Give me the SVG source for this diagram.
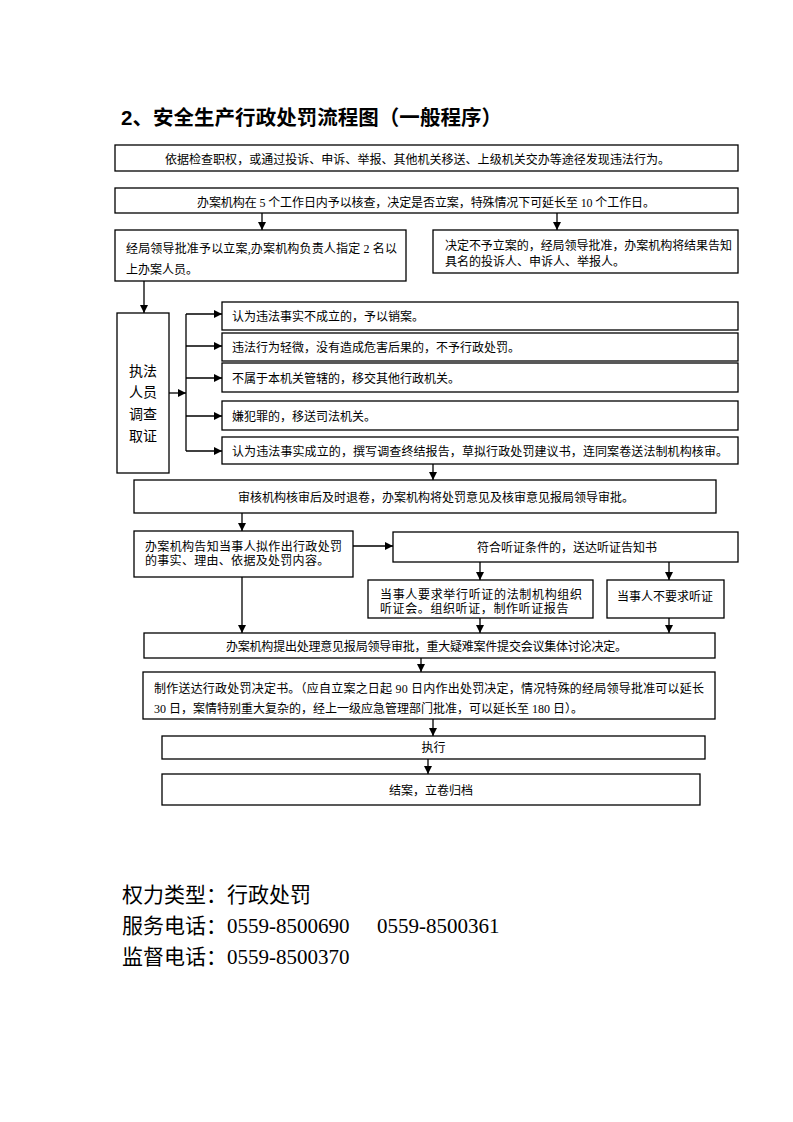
<svg xmlns="http://www.w3.org/2000/svg" width="793" height="1122" viewBox="0 0 793 1122">
<style>
.b{fill:#fff;stroke:#000;stroke-width:1.3}
.t{font-family:"Liberation Serif","Noto Sans CJK SC",serif;font-size:12px;fill:#000}
.c{text-anchor:middle}
.v{font-family:"Liberation Serif","Noto Sans CJK SC",serif;font-size:14px;fill:#000;text-anchor:middle}
.ttl{font-family:"Liberation Sans","Noto Sans CJK SC",sans-serif;font-size:20.5px;font-weight:bold;fill:#000}
.foot{font-family:"Liberation Serif","Noto Sans CJK SC",serif;font-size:21px;fill:#000}
.ln{fill:none;stroke:#000;stroke-width:1.3}
.ar{fill:none;stroke:#000;stroke-width:1.3;marker-end:url(#ah)}
</style>
<defs>
<marker id="ah" viewBox="0 0 10 10" refX="10" refY="5" markerWidth="8" markerHeight="8" markerUnits="userSpaceOnUse" orient="auto"><path d="M0,0 L10,5 L0,10 z" fill="#000"/></marker>
</defs>
<rect width="793" height="1122" fill="#fff"/>
<text class="ttl" x="121" y="125" textLength="381" lengthAdjust="spacing">2、安全生产行政处罚流程图（一般程序）</text>

<g id="connectors">
<line class="ar" x1="262" y1="213" x2="262" y2="230"/>
<line class="ar" x1="557" y1="213" x2="557" y2="230"/>
<line class="ar" x1="144" y1="281" x2="144" y2="313"/>
<line class="ar" x1="169" y1="393" x2="186" y2="393"/>
<line class="ln" x1="186" y1="314" x2="186" y2="451"/>
<line class="ar" x1="186" y1="314" x2="222" y2="314"/>
<line class="ar" x1="186" y1="346" x2="222" y2="346"/>
<line class="ar" x1="186" y1="378" x2="222" y2="378"/>
<line class="ar" x1="186" y1="416" x2="222" y2="416"/>
<line class="ar" x1="186" y1="451" x2="222" y2="451"/>
<line class="ar" x1="433" y1="464" x2="433" y2="480"/>
<line class="ar" x1="242" y1="513" x2="242" y2="531"/>
<line class="ar" x1="353" y1="546" x2="393" y2="546"/>
<line class="ar" x1="480" y1="562" x2="480" y2="580"/>
<line class="ar" x1="669" y1="562" x2="669" y2="580"/>
<line class="ar" x1="480" y1="618" x2="480" y2="633"/>
<line class="ar" x1="669" y1="618" x2="669" y2="633"/>
<line class="ar" x1="242" y1="577" x2="242" y2="633"/>
<line class="ar" x1="421" y1="658" x2="421" y2="672"/>
<line class="ar" x1="433" y1="719" x2="433" y2="736"/>
<line class="ar" x1="428" y1="759" x2="428" y2="774"/>
</g>

<g id="n1"><rect class="b" x="115" y="145" width="623" height="26"/>
<text class="t" x="165" y="163.5" textLength="505" lengthAdjust="spacing">依据检查职权，或通过投诉、申诉、举报、其他机关移送、上级机关交办等途径发现违法行为。</text></g>

<g id="n2"><rect class="b" x="115" y="188" width="623" height="25"/>
<text class="t" x="197" y="206.5" textLength="458" lengthAdjust="spacing">办案机构在 5 个工作日内予以核查，决定是否立案，特殊情况下可延长至 10 个工作日。</text></g>

<g id="n3"><rect class="b" x="115" y="230" width="291" height="51"/>
<text class="t" x="126" y="252.5" textLength="271" lengthAdjust="spacing">经局领导批准予以立案,办案机构负责人指定 2 名以</text>
<text class="t" x="126" y="273.5">上办案人员。</text></g>

<g id="n4"><rect class="b" x="433" y="230" width="305" height="43"/>
<text class="t" x="445" y="249.5" textLength="287" lengthAdjust="spacing">决定不予立案的，经局领导批准，办案机构将结果告知</text>
<text class="t" x="445" y="266">具名的投诉人、申诉人、举报人。</text></g>

<g id="n5"><rect class="b" x="117" y="313" width="52" height="160"/>
<text class="v" x="143" y="375.5">执法</text>
<text class="v" x="143" y="397.2">人员</text>
<text class="v" x="143" y="418.9">调查</text>
<text class="v" x="143" y="440.6">取证</text></g>

<g id="n6"><rect class="b" x="222" y="302" width="516" height="28"/>
<text class="t" x="232" y="321">认为违法事实不成立的，予以销案。</text></g>
<g id="n7"><rect class="b" x="222" y="333" width="516" height="28"/>
<text class="t" x="232" y="352">违法行为轻微，没有造成危害后果的，不予行政处罚。</text></g>
<g id="n8"><rect class="b" x="222" y="363" width="516" height="29"/>
<text class="t" x="232" y="382.5">不属于本机关管辖的，移交其他行政机关。</text></g>
<g id="n9"><rect class="b" x="222" y="401" width="516" height="29"/>
<text class="t" x="232" y="420.5">嫌犯罪的，移送司法机关。</text></g>
<g id="n10"><rect class="b" x="222" y="437" width="516" height="27"/>
<text class="t" x="232" y="455.5" textLength="496" lengthAdjust="spacing">认为违法事实成立的，撰写调查终结报告，草拟行政处罚建议书，连同案卷送法制机构核审。</text></g>

<g id="n11"><rect class="b" x="134" y="480" width="582" height="33"/>
<text class="t" x="238" y="501.5">审核机构核审后及时退卷，办案机构将处罚意见及核审意见报局领导审批。</text></g>

<g id="n12"><rect class="b" x="134" y="531" width="219" height="46"/>
<text class="t" x="145" y="551" textLength="197" lengthAdjust="spacing">办案机构告知当事人拟作出行政处罚</text>
<text class="t" x="145" y="565" letter-spacing="0.3">的事实、理由、依据及处罚内容。</text></g>

<g id="n13"><rect class="b" x="393" y="532" width="345" height="30"/>
<text class="t" x="477" y="552">符合听证条件的，送达听证告知书</text></g>

<g id="n14"><rect class="b" x="368" y="580" width="225" height="38"/>
<text class="t" x="380" y="598.5" textLength="202" lengthAdjust="spacing">当事人要求举行听证的法制机构组织</text>
<text class="t" x="380" y="612.5" letter-spacing="0.6">听证会。组织听证，制作听证报告</text></g>

<g id="n15"><rect class="b" x="607" y="580" width="117" height="38"/>
<text class="t c" x="665" y="600.5">当事人不要求听证</text></g>

<g id="n16"><rect class="b" x="144" y="633" width="571" height="25"/>
<text class="t" x="226" y="651" textLength="401" lengthAdjust="spacing">办案机构提出处理意见报局领导审批，重大疑难案件提交会议集体讨论决定。</text></g>

<g id="n17"><rect class="b" x="143" y="672" width="572" height="47"/>
<text class="t" x="154" y="692.5" textLength="550" lengthAdjust="spacing">制作送达行政处罚决定书。（应自立案之日起 90 日内作出处罚决定，情况特殊的经局领导批准可以延长</text>
<text class="t" x="154" y="712.5">30 日，案情特别重大复杂的，经上一级应急管理部门批准，可以延长至 180 日）。</text></g>

<g id="n18"><rect class="b" x="162" y="736" width="543" height="23"/>
<text class="t c" x="433.5" y="752">执行</text></g>

<g id="n19"><rect class="b" x="162" y="774" width="538" height="31"/>
<text class="t c" x="431" y="794.5">结案，立卷归档</text></g>

<g id="footer">
<text class="foot" x="122" y="902">权力类型：行政处罚</text>
<text class="foot" x="122" y="933">服务电话：0559-8500690<tspan x="377">0559-8500361</tspan></text>
<text class="foot" x="122" y="964">监督电话：0559-8500370</text>
</g>
</svg>
